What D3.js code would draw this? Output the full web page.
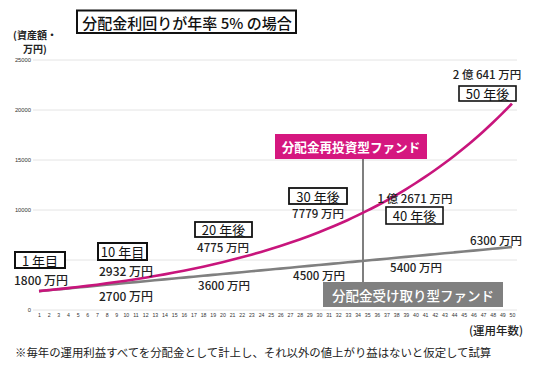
<!DOCTYPE html>
<html><head><meta charset="utf-8">
<script src="https://cdn.jsdelivr.net/npm/d3@7"></script>
<style>
html,body{margin:0;padding:0;background:#fff;}
svg{display:block;font-family:"Noto Sans CJK JP","Noto Sans",sans-serif;}
</style></head>
<body>
<svg id="c" width="540" height="367"></svg>
<script>
const years = d3.range(1, 51);
const reinvest = [1890,1984.5,2083.7,2187.9,2297.3,2412.2,2532.8,2659.4,2792.4,2932.0,
  3078.6,3232.5,3394.2,3563.9,3742.1,3929.2,4125.6,4331.9,4548.5,4775.9,
  5014.7,5265.5,5528.7,5805.2,6095.4,6400.2,6720.2,7056.2,7409.0,7779.5,
  8168.5,8576.9,9005.7,9456.0,9928.8,10425.3,10946.5,11493.9,12068.6,12672.0,
  13305.6,13970.9,14669.4,15402.9,16173.0,16981.7,17830.7,18722.3,19658.4,20641.3];
const receive = [1890,1980,2070,2160,2250,2340,2430,2520,2610,2700,
  2790,2880,2970,3060,3150,3240,3330,3420,3510,3600,
  3690,3780,3870,3960,4050,4140,4230,4320,4410,4500,
  4590,4680,4770,4860,4950,5040,5130,5220,5310,5400,
  5490,5580,5670,5760,5850,5940,6030,6120,6210,6300];
const gridTicks = [0,5000,10000,15000,20000,25000];
const yTickLabels = [0,10000,15000,20000,25000]; // 5000 is hidden behind the "1 年目" box

const svg = d3.select("#c");
const x = d3.scaleLinear().domain([1,50]).range([39,512]);
const y = d3.scaleLinear().domain([0,25000]).range([310,60]);

// grid
svg.append("g").selectAll("line").data(gridTicks).join("line")
  .attr("x1",33).attr("x2",517).attr("y1",d=>y(d)).attr("y2",d=>y(d))
  .attr("stroke","#e4e4e4").attr("stroke-width",1);

// y axis labels
const ya = svg.append("g").attr("transform","translate(31,0)")
  .call(d3.axisLeft(y).tickValues(yTickLabels).tickSize(0).tickPadding(0).tickFormat(d3.format("d")));
ya.select(".domain").remove();
ya.selectAll("text").attr("font-size",5.8).attr("fill","#333").attr("font-family","Liberation Sans, sans-serif");

// x axis labels
const xa = svg.append("g").attr("transform","translate(0,311)")
  .call(d3.axisBottom(x).tickValues(years).tickSize(0).tickPadding(2).tickFormat(d3.format("d")));
xa.select(".domain").remove();
xa.selectAll("text").attr("font-size",5.2).attr("fill","#333").attr("font-family","Liberation Sans, sans-serif");

// connector line
svg.append("line").attr("x1",363).attr("x2",363).attr("y1",159).attr("y2",282)
  .attr("stroke","#555").attr("stroke-width",1.5);

// lines
const line = d3.line().x((d,i)=>x(years[i])).y(d=>y(d)).curve(d3.curveMonotoneX);
svg.append("path").datum(receive).attr("d",line).attr("fill","none")
  .attr("stroke","#808080").attr("stroke-width",2.6);
svg.append("path").datum(reinvest).attr("d",line).attr("fill","none")
  .attr("stroke","#c8157c").attr("stroke-width",2.6);

// title
svg.append("rect").attr("x",77).attr("y",10.5).attr("width",219).attr("height",22.5)
  .attr("fill","#fff").attr("stroke","#111").attr("stroke-width",2);
svg.append("text").attr("x",187).attr("y",22).attr("text-anchor","middle").attr("dominant-baseline","central")
  .attr("font-size",15).attr("font-weight",500).attr("fill","#111").text("分配金利回りが年率 5% の場合");

// axis titles
svg.append("text").attr("x",35).attr("y",38.6).attr("text-anchor","middle")
  .attr("font-size",10).attr("font-weight",700).attr("fill","#222").text("(資産額・");
svg.append("text").attr("x",35).attr("y",53.1).attr("text-anchor","middle")
  .attr("font-size",10).attr("font-weight",700).attr("fill","#222").text("万円)");
svg.append("text").attr("x",496).attr("y",330).attr("text-anchor","middle").attr("dominant-baseline","central")
  .attr("font-size",11.5).attr("font-weight",500).attr("fill","#222").text("(運用年数)");

// footnote
svg.append("text").attr("x",15).attr("y",352).attr("dominant-baseline","central")
  .attr("font-size",11.4).attr("fill","#222").text("※毎年の運用利益すべてを分配金として計上し、それ以外の値上がり益はないと仮定して試算");

// label boxes
function box(t, x0, y0, x1, y1, sw){
  svg.append("rect").attr("x",x0).attr("y",y0).attr("width",x1-x0).attr("height",y1-y0)
    .attr("fill","#fff").attr("stroke","#111").attr("stroke-width",sw||2);
  svg.append("text").attr("x",(x0+x1)/2).attr("y",(y0+y1)/2).attr("text-anchor","middle")
    .attr("dominant-baseline","central").attr("font-size",13).attr("font-weight",400).attr("fill","#111").text(t);
}
function lab(t, cx, cy, fs){
  svg.append("text").attr("x",cx).attr("y",cy).attr("text-anchor","middle")
    .attr("dominant-baseline","central").attr("font-size",fs||12).attr("font-weight",500).attr("fill","#222").text(t);
}
box("1 年目",15,252,65,268);
lab("1800 万円",41,279);
box("10 年目",98,243,147,260);
lab("2932 万円",126,270);
lab("2700 万円",126,295);
box("20 年後",195,222,252,237,1.8);
lab("4775 万円",223,247,11.5);
lab("3600 万円",224,285,11.5);
box("30 年後",289,188,347,204,1.8);
lab("7779 万円",318,213,11.5);
lab("4500 万円",319,275,11.5);
lab("1 億 2671 万円",415,198,11.5);
box("40 年後",386,207,443,224,1.6);
lab("5400 万円",416,267,11.5);
lab("6300 万円",496,240,11.5);
lab("2 億 641 万円",487,74,11.5);
box("50 年後",459,86,516,101,1.6);

// series name boxes
svg.append("rect").attr("x",275).attr("y",134).attr("width",152).attr("height",25).attr("fill","#d5177f");
svg.append("text").attr("x",351).attr("y",146.5).attr("text-anchor","middle").attr("dominant-baseline","central")
  .attr("font-size",12.6).attr("font-weight",700).attr("fill","#fff").text("分配金再投資型ファンド");
svg.append("rect").attr("x",323).attr("y",282).attr("width",180).attr("height",25).attr("fill","#808080");
svg.append("text").attr("x",413).attr("y",294.5).attr("text-anchor","middle").attr("dominant-baseline","central")
  .attr("font-size",13.5).attr("font-weight",500).attr("fill","#fff").text("分配金受け取り型ファンド");
</script>
</body></html>
